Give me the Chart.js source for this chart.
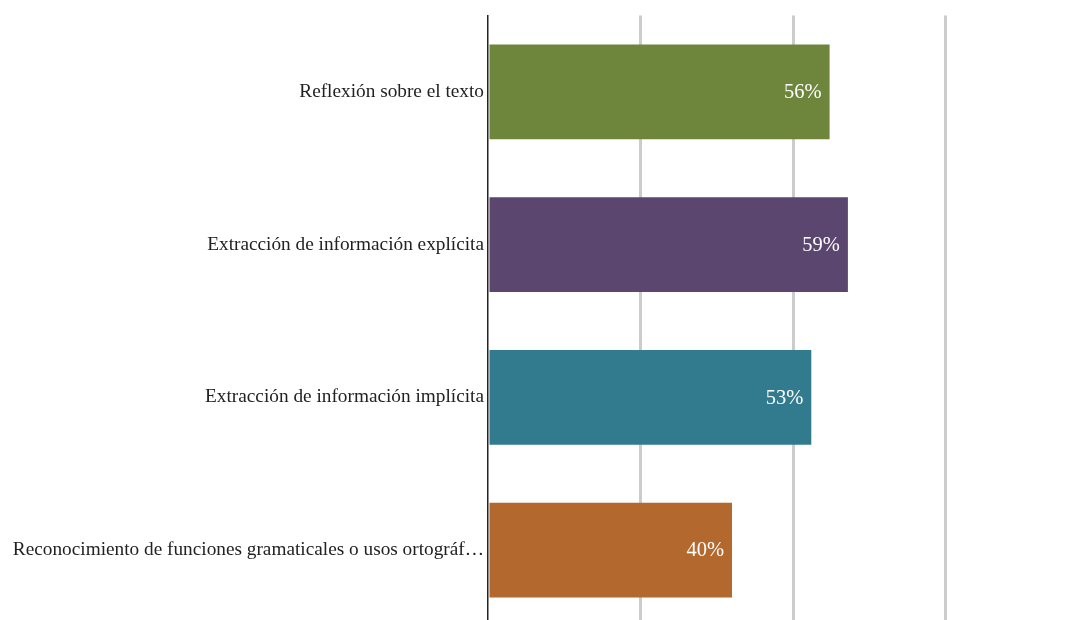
<!DOCTYPE html>
<html>
<head>
<meta charset="utf-8">
<script src="https://cdn.jsdelivr.net/npm/chart.js@4"></script>
<style>
  html, body { margin: 0; padding: 0; background: #fff; overflow: hidden; }
</style>
</head>
<body>
<canvas id="myChartBar" width="1100" height="642"></canvas>
<script>
const categories = [
  "Reflexión sobre el texto",
  "Extracción de información explícita",
  "Extracción de información implícita",
  "Reconocimiento de funciones gramaticales o usos ortográf…",
];
const percentValues = [56, 59, 53, 40];
const barColors = ["#6e863c", "#5b4670", "#327b8f", "#b3692e"];
const xTicks = [0, 25, 50, 75, 100];

// draws "56%" etc. inside the end of each bar
const valueLabels = {
  id: "valueLabels",
  afterDatasetsDraw(chart) {
    const ctx = chart.ctx;
    const meta = chart.getDatasetMeta(0);
    ctx.save();
    ctx.font = '20.5px "Liberation Serif"';
    ctx.fillStyle = "#ffffff";
    ctx.textAlign = "right";
    ctx.textBaseline = "middle";
    meta.data.forEach((bar, i) => {
      ctx.fillText(percentValues[i] + "%", bar.x - 8, bar.y + 1);
    });
    ctx.restore();
  },
};

const canvas_bar = document.getElementById("myChartBar");
let myChart_bar = new Chart(canvas_bar, {
  type: "bar",
  data: {
    labels: categories,
    datasets: [
      {
        label: "%",
        data: percentValues,
        backgroundColor: barColors,
        categoryPercentage: 1,
        barPercentage: 0.62,
      },
    ],
  },
  plugins: [valueLabels],
  options: {
    indexAxis: "y",
    responsive: false,
    animation: false,
    events: [],
    layout: { padding: { top: 14, bottom: 4, right: 2, left: 0 } },
    plugins: { legend: { display: false }, tooltip: { enabled: false } },
    scales: {
      x: {
        min: 0,
        max: 100,
        afterBuildTicks: (scale) => {
          scale.ticks = xTicks.map((v) => ({ value: v }));
        },
        afterFit: (scale) => {
          scale.height = 0;
        },
        ticks: { display: false },
        border: { display: false },
        grid: {
          drawTicks: false,
          lineWidth: 3,
          color: (c) => (c.tick && c.tick.value === 0 ? "rgba(0,0,0,0)" : "#cccccc"),
        },
      },
      y: {
        afterFit: (scale) => {
          scale.width = 488;
        },
        grid: { display: false, drawTicks: false },
        border: { display: true, color: "#222222", width: 1.5 },
        ticks: {
          padding: 4,
          color: "#222222",
          font: { family: '"Liberation Serif"', size: 19.3 },
        },
      },
    },
  },
});
</script>
</body>
</html>
